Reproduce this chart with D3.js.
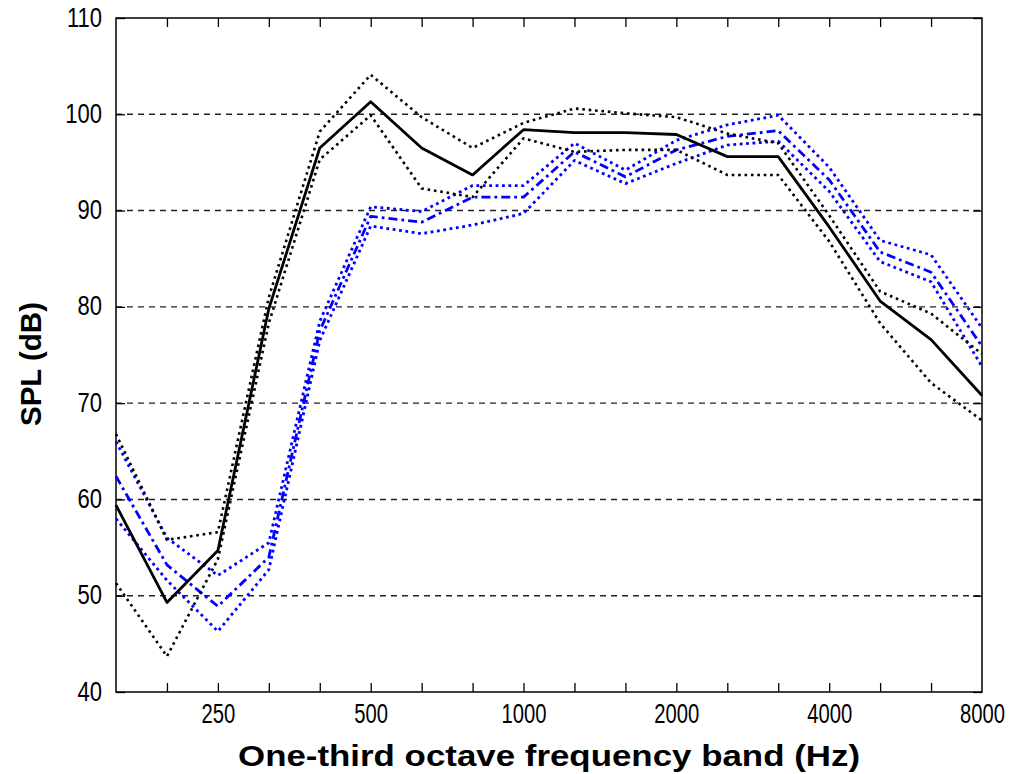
<!DOCTYPE html>
<html>
<head>
<meta charset="utf-8">
<script src="https://cdn.jsdelivr.net/npm/d3@7"></script>
<style>
  body { margin: 0; background: #fff; }
  svg { display: block; }
  text { font-family: "Liberation Sans", Arial, sans-serif; fill: #000; }
</style>
</head>
<body>
<div id="chart"></div>
<script>
const bands = [160, 200, 250, 315, 400, 500, 630, 800, 1000, 1250, 1600, 2000, 2500, 3150, 4000, 5000, 6300, 8000]
const labelBands = [250, 500, 1000, 2000, 4000, 8000]
const yTicks = [40, 50, 60, 70, 80, 90, 100, 110]

// black group: mean and spread
const blackMean = [59.4, 49.3, 54.7, 79.8, 96.5, 101.3, 96.5, 93.7, 98.4, 98.1, 98.1, 97.9, 95.6, 95.6, 88.3, 80.6, 76.6, 70.8]
const blackUpper = [66.8, 55.8, 56.6, 81.0, 98.2, 104.1, 99.7, 96.5, 99.1, 100.6, 100.1, 99.7, 98.0, 97.0, 89.5, 81.6, 79.3, 75.1]
const blackLower = [51.3, 43.7, 53.8, 78.3, 95.3, 99.9, 92.3, 91.4, 97.5, 96.1, 96.3, 96.3, 93.7, 93.7, 86.8, 78.3, 72.1, 68.2]

// blue group: mean and spread
const blueMean = [62.4, 53.2, 48.9, 54.0, 77.5, 89.4, 88.8, 91.4, 91.4, 96.1, 93.5, 96.3, 97.7, 98.3, 93.2, 85.7, 83.6, 75.9]
const blueUpper = [66.0, 56.0, 52.1, 55.5, 78.5, 90.4, 89.9, 92.6, 92.6, 97.0, 94.2, 97.3, 98.9, 99.9, 94.5, 86.9, 85.4, 77.8]
const blueLower = [58.0, 51.6, 46.3, 52.7, 76.5, 88.4, 87.6, 88.5, 89.7, 95.2, 92.8, 94.9, 96.8, 97.2, 92.0, 84.7, 82.6, 73.8]

const W = 1015, H = 774
const m = { left: 116, right: 982, top: 18, bottom: 692 }

const svg = d3.select("#chart").append("svg").attr("width", W).attr("height", H)
svg.append("rect").attr("width", W).attr("height", H).attr("fill", "#fff")

const x = d3.scalePoint().domain(bands).range([m.left, m.right]).padding(0)
const y = d3.scaleLinear().domain([40, 110]).range([m.bottom, m.top])

// horizontal dashed grid
svg.append("g")
  .selectAll("line")
  .data(yTicks.filter((d) => d > 40 && d < 110))
  .join("line")
  .attr("x1", m.left).attr("x2", m.right)
  .attr("y1", (d) => y(d)).attr("y2", (d) => y(d))
  .attr("stroke", "#222").attr("stroke-width", 1.4)
  .attr("stroke-dasharray", "6,5")

// axes (ticks inside, mirrored like matlab box)
const tickLen = 9
const axB = svg.append("g").attr("transform", `translate(0,${m.bottom})`)
  .call(d3.axisBottom(x).tickSizeInner(-tickLen).tickSizeOuter(0).tickFormat((d) => labelBands.includes(d) ? d : ""))
const axT = svg.append("g").attr("transform", `translate(0,${m.top})`)
  .call(d3.axisTop(x).tickSizeInner(-tickLen).tickSizeOuter(0).tickFormat(""))
const axL = svg.append("g").attr("transform", `translate(${m.left},0)`)
  .call(d3.axisLeft(y).tickValues(yTicks).tickSizeInner(-tickLen).tickSizeOuter(0))
const axR = svg.append("g").attr("transform", `translate(${m.right},0)`)
  .call(d3.axisRight(y).tickValues(yTicks).tickSizeInner(-tickLen).tickSizeOuter(0).tickFormat(""))

;[axB, axT, axL, axR].forEach((g) => {
  g.select(".domain").remove()
  g.selectAll("line").attr("stroke", "#000").attr("stroke-width", 1.3)
})
axB.selectAll(".tick line").filter((d) => d === 160 || d === 8000).remove()
axT.selectAll(".tick line").filter((d) => d === 160 || d === 8000).remove()

axB.selectAll("text")
  .attr("font-size", 22).attr("dy", 0).attr("y", 0)
  .attr("transform", "translate(0,31) scale(0.92,1.25)")
axL.selectAll("text")
  .attr("font-size", 22).attr("dy", 0).attr("x", 0)
  .attr("transform", "translate(-14,8) scale(1,1.25)")

// frame
svg.append("rect")
  .attr("x", m.left).attr("y", m.top)
  .attr("width", m.right - m.left).attr("height", m.bottom - m.top)
  .attr("fill", "none").attr("stroke", "#000").attr("stroke-width", 1.5)

const line = d3.line().x((d, i) => x(bands[i])).y((d) => y(d))

const series = [
  { values: blueUpper, color: "#0000ff", width: 2.8, dash: "2.8,3.6" },
  { values: blueLower, color: "#0000ff", width: 2.8, dash: "2.8,3.6" },
  { values: blueMean, color: "#0000ff", width: 2.8, dash: "9,4,2.8,4" },
  { values: blackUpper, color: "#000", width: 2.6, dash: "2.6,3.8" },
  { values: blackLower, color: "#000", width: 2.6, dash: "2.6,3.8" },
  { values: blackMean, color: "#000", width: 2.8, dash: null },
]

svg.append("g")
  .selectAll("path")
  .data(series)
  .join("path")
  .attr("d", (d) => line(d.values))
  .attr("fill", "none")
  .attr("stroke", (d) => d.color)
  .attr("stroke-width", (d) => d.width)
  .attr("stroke-dasharray", (d) => d.dash)
  .attr("stroke-linejoin", "round")

// axis titles
svg.append("text")
  .attr("x", (m.left + m.right) / 2).attr("y", 766)
  .attr("text-anchor", "middle")
  .attr("font-size", 29).attr("font-weight", "bold")
  .attr("textLength", 622).attr("lengthAdjust", "spacingAndGlyphs")
  .text("One-third octave frequency band (Hz)")

svg.append("text")
  .attr("transform", `translate(41,364) rotate(-90)`)
  .attr("text-anchor", "middle")
  .attr("font-size", 29).attr("font-weight", "bold")
  .attr("textLength", 124).attr("lengthAdjust", "spacingAndGlyphs")
  .text("SPL (dB)")
</script>
</body>
</html>
